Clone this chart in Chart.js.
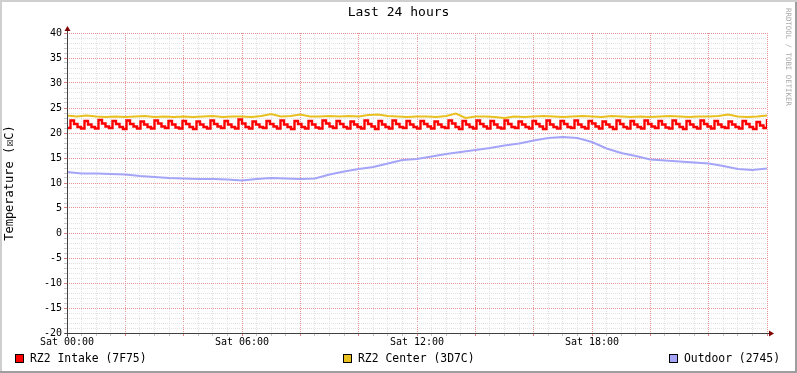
<!DOCTYPE html>
<html>
<head>
<meta charset="utf-8">
<title>Last 24 hours</title>
<script src="https://cdn.jsdelivr.net/npm/chart.js@4.4.0/dist/chart.umd.min.js"></script>
<style>
  html, body { margin: 0; padding: 0; background: #fff; }
  canvas { display: block; }
</style>
</head>
<body>
<canvas id="tempChart" width="797" height="373"></canvas>
<script>
// samples, x = hours since Sat 00:00
const intakeStep = 0.12;
const intakeTemps = [
    21.0, 22.5, 21.8, 21.2, 20.9, 22.4, 21.7, 21.2, 20.9, 22.6, 21.9, 21.3, 21.0, 22.4, 21.8, 21.2, 20.8, 22.5, 21.8, 21.3,
    20.9, 22.3, 21.7, 21.2, 20.9, 22.5, 21.9, 21.3, 21.0, 22.4, 21.7, 21.1, 20.9, 22.4, 21.8, 21.2, 20.8, 22.3, 21.7, 21.2,
    20.9, 22.5, 21.8, 21.3, 21.0, 22.4, 21.7, 21.2, 20.9, 22.7, 21.9, 21.2, 20.9, 22.3, 21.7, 21.2, 21.0, 22.4, 21.8, 21.3,
    20.9, 22.5, 21.7, 21.2, 20.8, 22.4, 21.8, 21.2, 20.9, 22.4, 21.7, 21.1, 20.9, 22.5, 21.9, 21.3, 21.0, 22.4, 21.8, 21.2,
    20.9, 22.3, 21.7, 21.2, 20.9, 22.5, 21.8, 21.3, 20.8, 22.4, 21.7, 21.2, 20.9, 22.5, 21.8, 21.2, 21.0, 22.4, 21.7, 21.2,
    20.9, 22.4, 21.8, 21.3, 20.9, 22.3, 21.7, 21.2, 21.0, 22.5, 21.9, 21.2, 20.8, 22.4, 21.7, 21.2, 20.9, 22.5, 21.8, 21.3,
    20.9, 22.4, 21.7, 21.1, 20.9, 22.5, 21.8, 21.2, 21.0, 22.3, 21.7, 21.2, 20.9, 22.4, 21.8, 21.3, 20.8, 22.5, 21.7, 21.2,
    20.9, 22.4, 21.8, 21.2, 21.0, 22.5, 21.7, 21.2, 20.9, 22.4, 21.9, 21.3, 20.9, 22.3, 21.7, 21.2, 20.8, 22.5, 21.8, 21.2,
    20.9, 22.4, 21.7, 21.2, 20.9, 22.5, 21.8, 21.3, 21.0, 22.4, 21.7, 21.1, 20.9, 22.5, 21.8, 21.2, 20.8, 22.4, 21.7, 21.2,
    20.9, 22.5, 21.8, 21.3, 20.9, 22.4, 21.7, 21.2, 21.0, 22.3, 21.7, 21.2, 20.9, 22.4, 21.8, 21.2, 20.8, 22.2, 21.5, 21.0,
    22.8
];

const centerStep = 1 / 3;
const centerTemps = [
    23.5, 23.3, 23.5, 23.3, 23.2, 23.3, 23.2, 23.3, 23.4, 23.2, 23.3, 23.2, 23.3, 23.2, 23.3, 23.4, 23.2, 23.3,
    23.3, 23.2, 23.4, 23.8, 23.3, 23.4, 23.7, 23.3, 23.3, 23.4, 23.3, 23.4, 23.3, 23.6, 23.7, 23.4, 23.3, 23.2,
    23.3, 23.3, 23.2, 23.4, 23.9, 23.0, 23.3, 23.3, 23.2, 23.0, 23.3, 23.2, 23.3, 23.4, 23.3, 23.2, 23.3, 23.4,
    23.3, 23.2, 23.4, 23.3, 23.2, 23.3, 23.2, 23.3, 23.4, 23.3, 23.2, 23.3, 23.3, 23.4, 23.7, 23.3, 23.2, 23.3,
    23.5
];

const outdoorStep = 0.5;
const outdoorTemps = [
    12.2, 11.9, 11.9, 11.8, 11.7, 11.4, 11.2, 11.0, 10.9, 10.8, 10.8, 10.7, 10.5,
    10.8, 11.0, 10.9, 10.8, 10.9, 11.7, 12.3, 12.8, 13.2, 13.9, 14.6, 14.8,
    15.3, 15.8, 16.2, 16.6, 17.0, 17.5, 17.9, 18.5, 19.0, 19.2, 19.0, 18.2,
    16.9, 16.0, 15.4, 14.7, 14.5, 14.3, 14.1, 13.9, 13.4, 12.8, 12.6, 12.9
];

const seriesLabels = ['RZ2 Intake (7F75)', 'RZ2 Center (3D7C)', 'Outdoor (2745)'];
const seriesColors = ['#FF0000', '#E8C020', '#A4A4F8'];

const xTickHours = [0, 6, 12, 18];
const xTickLabels = ['Sat 00:00', 'Sat 06:00', 'Sat 12:00', 'Sat 18:00'];

const MONO = '"DejaVu Sans Mono", monospace';
const MAJOR_GRID = '#E89494';
const MINOR_GRID = '#E2E2E2';

function toPoints(values, step) {
    return values.map((v, i) => ({ x: i * step, y: v }));
}

// rrdtool look: frame, title, watermark, arrows, legend
const rrdDecor = {
    id: 'rrdDecor',
    beforeDraw(chart) {
        const ctx = chart.ctx;
        ctx.save();
        ctx.fillStyle = '#FFFFFF';
        ctx.fillRect(0, 0, chart.width, chart.height);
        ctx.restore();
    },
    afterDraw(chart) {
        const ctx = chart.ctx;
        const area = chart.chartArea;
        const w = chart.width, h = chart.height;
        ctx.save();

        // frame
        ctx.fillStyle = '#CFCFCF';
        ctx.fillRect(0, 0, w, 2);
        ctx.fillRect(0, 0, 2, h);
        ctx.fillStyle = '#9E9E9E';
        ctx.fillRect(0, h - 2, w, 2);
        ctx.fillRect(w - 2, 2, 2, h - 2);

        // axes with arrows
        const ax = area.left + 0.5, ay = area.bottom + 0.5;
        ctx.strokeStyle = '#404040';
        ctx.lineWidth = 1;
        ctx.beginPath();
        ctx.moveTo(ax, ay + 3);
        ctx.lineTo(ax, area.top - 3);
        ctx.moveTo(ax - 3, ay);
        ctx.lineTo(area.right + 3, ay);
        ctx.stroke();
        ctx.fillStyle = '#7F0000';
        ctx.beginPath();
        ctx.moveTo(ax, area.top - 7);
        ctx.lineTo(ax - 3, area.top - 2);
        ctx.lineTo(ax + 3, area.top - 2);
        ctx.closePath();
        ctx.fill();
        ctx.beginPath();
        ctx.moveTo(area.right + 7, ay);
        ctx.lineTo(area.right + 2, ay - 3);
        ctx.lineTo(area.right + 2, ay + 3);
        ctx.closePath();
        ctx.fill();

        // title
        ctx.fillStyle = '#000';
        ctx.font = '13px ' + MONO;
        ctx.textAlign = 'center';
        ctx.textBaseline = 'middle';
        ctx.fillText('Last 24 hours', w / 2, 13);

        // watermark
        ctx.save();
        ctx.translate(w - 9, 8);
        ctx.rotate(Math.PI / 2);
        ctx.fillStyle = '#AAAAAA';
        ctx.font = '7.4px ' + MONO;
        ctx.textAlign = 'left';
        ctx.fillText('RRDTOOL / TOBI OETIKER', 0, 0);
        ctx.restore();

        // legend
        const legendX = [15, 343, 669];
        ctx.font = '11.4px ' + MONO;
        ctx.textAlign = 'left';
        chart.data.datasets.forEach((ds, i) => {
            const x = legendX[i];
            ctx.fillStyle = ds.borderColor;
            ctx.fillRect(x, 354, 9, 9);
            ctx.strokeStyle = '#000';
            ctx.strokeRect(x + 0.5, 354.5, 8, 8);
            ctx.fillStyle = '#000';
            ctx.fillText(ds.label, x + 15, 359);
        });
        ctx.restore();
    }
};

const ctx = document.getElementById('tempChart').getContext('2d');

new Chart(ctx, {
    type: 'line',
    data: {
        datasets: [
            {
                label: seriesLabels[0],
                data: toPoints(intakeTemps, intakeStep),
                borderColor: seriesColors[0],
                borderWidth: 2.4,
                stepped: true
            },
            {
                label: seriesLabels[1],
                data: toPoints(centerTemps, centerStep),
                borderColor: seriesColors[1],
                borderWidth: 2
            },
            {
                label: seriesLabels[2],
                data: toPoints(outdoorTemps, outdoorStep),
                borderColor: seriesColors[2],
                borderWidth: 2
            }
        ]
    },
    options: {
        responsive: false,
        animation: false,
        events: [],
        elements: {
            point: { radius: 0 },
            line: { tension: 0, fill: false, borderCapStyle: 'butt' }
        },
        layout: { padding: { top: 33, right: 30, left: 0, bottom: 0 } },
        plugins: {
            legend: { display: false },
            title: { display: false },
            tooltip: { enabled: false }
        },
        scales: {
            x: {
                type: 'linear',
                min: 0,
                max: 24,
                afterFit: function(scale) { scale.height = 40; },
                grid: {
                    color: c => (c.tick && c.tick.value % 2 === 0) ? MAJOR_GRID : MINOR_GRID,
                    tickColor: c => (c.tick && c.tick.value % 2 === 0) ? '#E08080' : '#C8C8C8',
                    tickLength: 3,
                    lineWidth: 1
                },
                border: { display: false, dash: [1, 1] },
                ticks: {
                    stepSize: 0.5,
                    maxTicksLimit: 100,
                    autoSkip: false,
                    maxRotation: 0,
                    padding: 0,
                    color: '#000',
                    font: { family: MONO, size: 10 },
                    callback: function(value) {
                        const idx = xTickHours.indexOf(value);
                        return idx >= 0 ? xTickLabels[idx] : '';
                    }
                }
            },
            y: {
                min: -20,
                max: 40,
                afterFit: function(scale) { scale.width = 67; },
                grid: {
                    color: c => (c.tick && c.tick.value % 5 === 0) ? MAJOR_GRID : MINOR_GRID,
                    tickColor: c => (c.tick && c.tick.value % 5 === 0) ? '#E08080' : '#C8C8C8',
                    tickLength: 3,
                    lineWidth: 1
                },
                border: { display: false, dash: [1, 1] },
                title: {
                    display: true,
                    text: 'Temperature (☒C)',
                    color: '#000',
                    font: { family: MONO, size: 12 },
                    padding: { top: 3, bottom: 0 }
                },
                ticks: {
                    stepSize: 1,
                    maxTicksLimit: 100,
                    autoSkip: false,
                    padding: 2,
                    color: '#000',
                    font: { family: MONO, size: 10 },
                    callback: function(value) {
                        return value % 5 === 0 ? String(value) : '';
                    }
                }
            }
        }
    },
    plugins: [rrdDecor]
});
</script>
</body>
</html>
